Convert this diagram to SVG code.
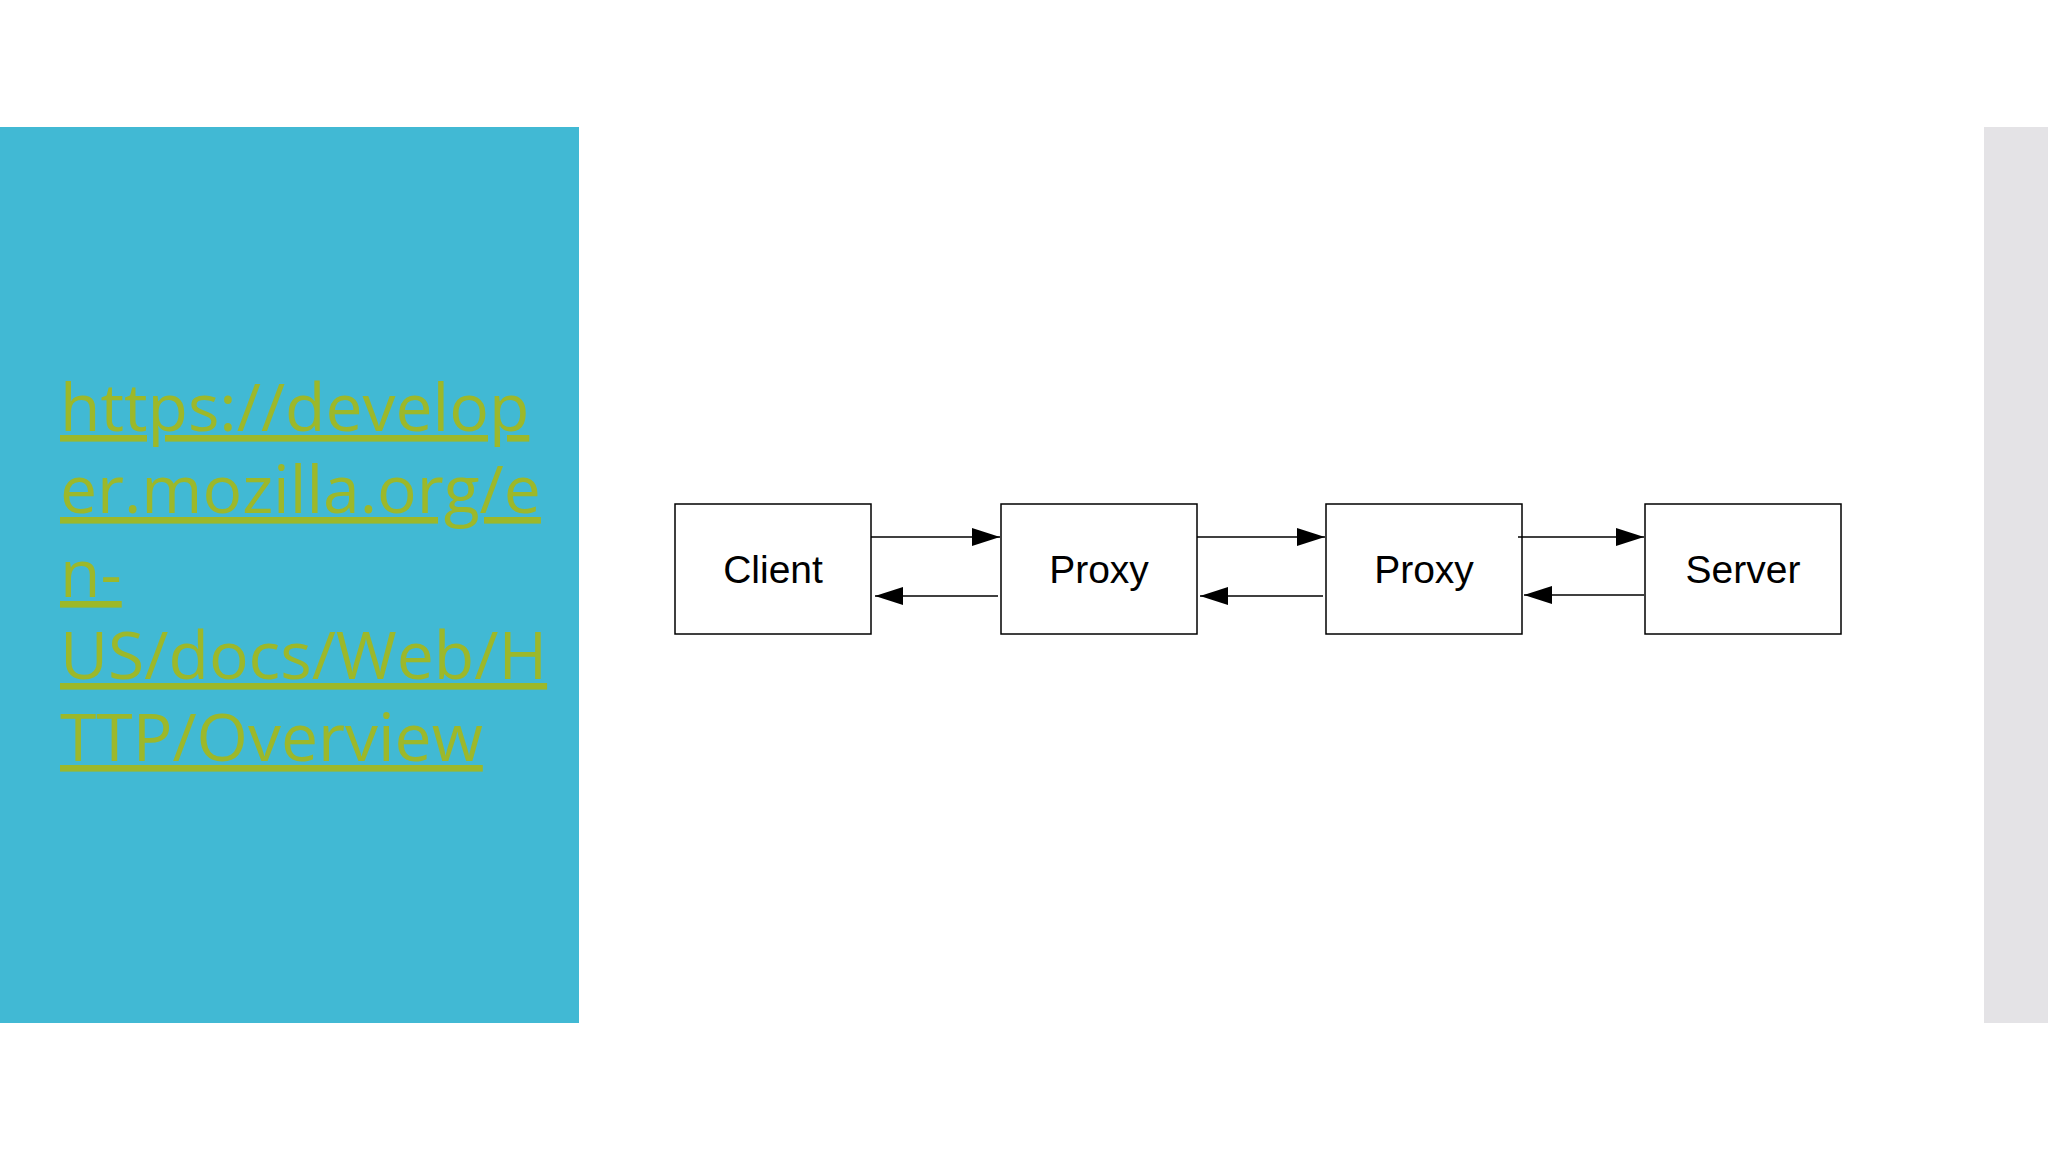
<svg xmlns="http://www.w3.org/2000/svg" width="2048" height="1152" viewBox="0 0 2048 1152">
<style>
.box{fill:#fff;stroke:#000;stroke-width:1.5}
.lbl{font-family:"Liberation Sans",Arial,sans-serif;font-size:39px;fill:#000;text-anchor:middle}
.url{font-family:"Open Sans","Noto Sans",sans-serif;font-size:66px;fill:#9cb82a;text-decoration:underline}
.c{stroke:#000;stroke-width:1.5;fill:none;marker-end:url(#ah)}
</style>
<defs><marker id="ah" markerWidth="14" markerHeight="10" refX="14" refY="5" orient="auto" markerUnits="userSpaceOnUse"><path d="M0,0L14,5L0,10Z" fill="#000"/></marker>
<marker id="ah2" viewBox="0 0 28 18" markerWidth="28" markerHeight="18" refX="28" refY="9" orient="auto" markerUnits="userSpaceOnUse"><path d="M0,0L28,9L0,18Z" fill="#000"/></marker></defs>
<rect width="2048" height="1152" fill="#fff"/>
<rect x="0" y="127" width="579" height="896" fill="#41b9d4"/>
<rect x="1984" y="127" width="64" height="896" fill="#e4e3e6"/>
<g id="url">
<text class="url" x="60" y="431">https://develop</text>
<text class="url" x="60" y="513">er.mozilla.org/e</text>
<text class="url" x="60" y="597">n-</text>
<text class="url" x="60" y="679">US/docs/Web/H</text>
<text class="url" x="60" y="761">TTP/Overview</text>
</g>
<g id="client"><rect class="box" x="675" y="504" width="196" height="130"/><text class="lbl" x="773" y="583">Client</text></g>
<g id="proxy1"><rect class="box" x="1001" y="504" width="196" height="130"/><text class="lbl" x="1099" y="583">Proxy</text></g>
<g id="proxy2"><rect class="box" x="1326" y="504" width="196" height="130"/><text class="lbl" x="1424" y="583">Proxy</text></g>
<g id="server"><rect class="box" x="1645" y="504" width="196" height="130"/><text class="lbl" x="1743" y="583">Server</text></g>
<g id="connectors" stroke="#000" stroke-width="1.5">
<line x1="871" y1="537" x2="1000" y2="537" style="marker-end:url(#ah2)"/>
<line x1="998" y1="596" x2="875" y2="596" style="marker-end:url(#ah2)"/>
<line x1="1197" y1="537" x2="1325" y2="537" style="marker-end:url(#ah2)"/>
<line x1="1323" y1="596" x2="1200" y2="596" style="marker-end:url(#ah2)"/>
<line x1="1518" y1="537" x2="1644" y2="537" style="marker-end:url(#ah2)"/>
<line x1="1644" y1="595" x2="1524" y2="595" style="marker-end:url(#ah2)"/>
</g>
</svg>
